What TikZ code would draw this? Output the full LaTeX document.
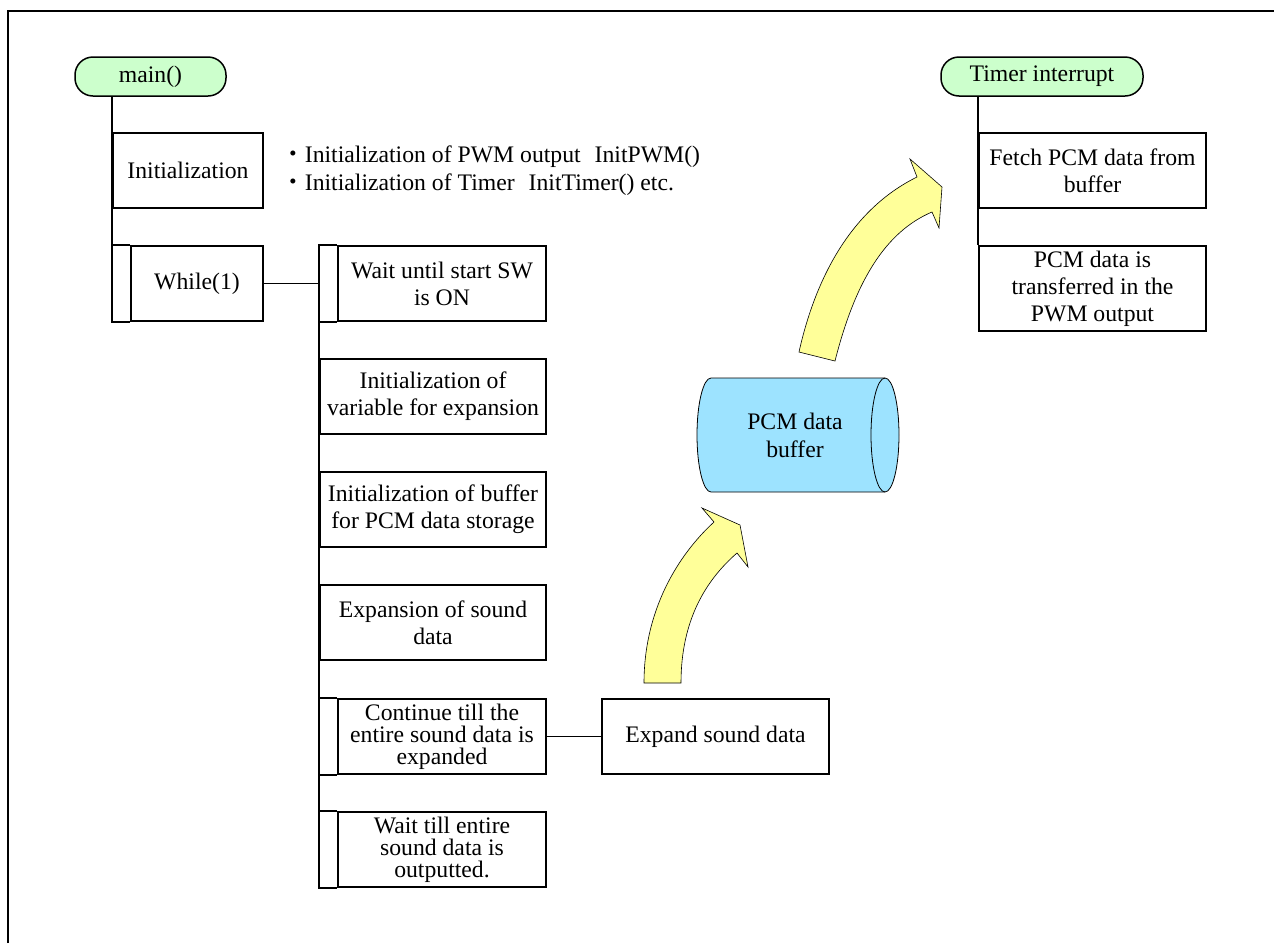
\documentclass[tikz,border=0pt]{standalone}
\usepackage{fontspec}
\setmainfont{Liberation Serif}
\newfontfamily\jp{Noto Sans CJK JP}
\usepackage{xcolor}
\usepackage{tikz}
\definecolor{pillgreen}{HTML}{CCFFCC}
\definecolor{bufblue}{HTML}{9DE3FF}
\definecolor{arrowyellow}{HTML}{FFFF99}
\tikzset{
  box/.style={draw, line width=1.7pt, fill=white, align=center, inner sep=0pt,
    font=\fontsize{23.7}{27}\selectfont},
  tight/.style={font=\fontsize{23.7}{22}\selectfont},
  loopbox/.style={box, append after command={\pgfextra{\draw[line width=1.7pt]
    (\tikzlastnode.north west) -- ++(-18pt,0) |- (\tikzlastnode.south west);}}},
  pill/.style={draw, line width=1.5pt, fill=pillgreen, rounded corners=18pt,
    minimum height=39pt, inner sep=0pt, font=\fontsize{23.7}{27}\selectfont}
}

\begin{document}
\begin{tikzpicture}[x=1pt, y=-1pt]
        \useasboundingbox (0,0) rectangle (1274,943);
        \draw[line width=2.5pt] (8,943) -- (8,11) -- (1274,11);

        \node[pill, minimum width=151pt] (mainfn) at (150.5,76.5) {main()};
        \node[box, minimum width=150pt, minimum height=75pt] (init) at (188,170.5) {Initialization};
        \node[loopbox, minimum width=132pt, minimum height=75pt] (while) at (197,283.5) {While(1)};
        \node[anchor=west, align=left, inner sep=0pt, font=\fontsize{23.7}{28}\selectfont] (notes) at (281,171)
            {{\jp ・}Initialization of PWM output\hspace{14pt}InitPWM()\\
             {\jp ・}Initialization of Timer\hspace{14pt}InitTimer() etc.};
        \draw[line width=1.7pt] (init.west |- mainfn.south) -- (init.west |- while.north);

        \node[loopbox, minimum width=208pt, minimum height=75pt] (waitsw) at (442,283.5) {Wait until start SW\\is ON};
        \node[box, minimum width=226pt, minimum height=75pt] (varinit) at (433,396.5) {Initialization of\\variable for expansion};
        \node[box, minimum width=226pt, minimum height=75pt] (bufinit) at (433,509.5) {Initialization of buffer\\for PCM data storage};
        \node[box, minimum width=226pt, minimum height=75pt] (expansion) at (433,622.5) {Expansion of sound\\data};
        \node[loopbox, tight, minimum width=208pt, minimum height=75pt] (cont) at (442,736.5) {Continue till the\\entire sound data is\\expanded};
        \node[loopbox, tight, minimum width=208pt, minimum height=75pt] (waitout) at (442,849.5) {Wait till entire\\sound data is\\outputted.};
        \node[box, minimum width=227pt, minimum height=75pt] (expand) at (715.5,736.5) {Expand sound data};
        \draw[line width=1.7pt] ([xshift=-18pt]waitsw.north west) -- ([xshift=-18pt]waitout.north west);
        \draw[line width=1.7pt] (while.east) -- ([xshift=-18pt]waitsw.west);
        \draw[line width=1.7pt] (cont.east) -- (expand.west);

        \node[pill, minimum width=202pt] (timer) at (1042,76.5) {Timer interrupt};
        \node[box, minimum width=227pt, minimum height=75pt] (fetch) at (1092.5,170.5) {Fetch PCM data from\\buffer};
        \node[box, minimum width=227pt, minimum height=85pt] (xfer) at (1092.5,288.5) {PCM data is\\transferred in the\\PWM output};
        \draw[line width=1.7pt] (fetch.west |- timer.south) -- (fetch.west |- xfer.north);

        \draw[fill=bufblue, line width=0.8pt] (711,378) -- (885,378)
            arc[start angle=-90, end angle=90, x radius=14, y radius=57] -- (711,492)
            arc[start angle=90, end angle=270, x radius=14, y radius=57] -- cycle;
        \draw[line width=0.8pt] (885,378) arc[start angle=-90, end angle=-270, x radius=14, y radius=57];
        \node[align=center, inner sep=0pt, font=\fontsize{23.7}{28}\selectfont] (buffer) at (795,435) {PCM data\\buffer};

        \draw[fill=arrowyellow, line width=0.6pt] (644,683) .. controls (644,610) and (678,555) .. (714,522)
            -- (702,508) -- (740,525) -- (748,567) -- (737,553)
            .. controls (706,580) and (681,620) .. (681,683) -- cycle;
        \draw[fill=arrowyellow, line width=0.6pt] (799,352) .. controls (815,280) and (850,210) .. (917,177)
            -- (910,159) -- (942,187) -- (939,228) -- (932,212)
            .. controls (885,232) and (855,282) .. (835,361) -- cycle;
    \end{tikzpicture}
\end{document}
